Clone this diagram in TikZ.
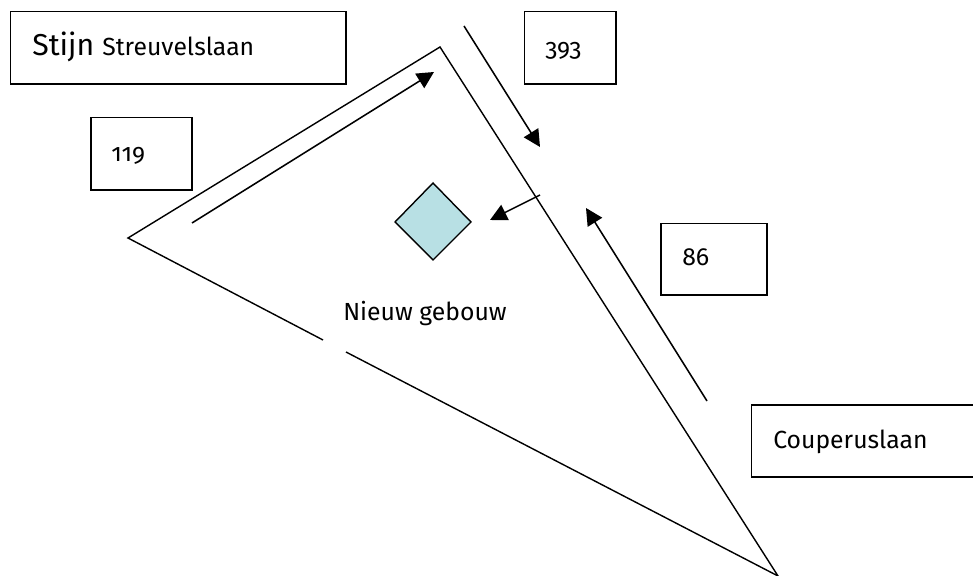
\documentclass[tikz,border=0pt]{standalone}
\usepackage{fontspec}
\setmainfont[Numbers=OldStyle]{Fira Sans}
\usetikzlibrary{arrows.meta}
\definecolor{gebouwblue}{RGB}{184,224,228}
\tikzset{
    labelbox/.style={draw, line width=1pt},
    boxtext/.style={anchor=base west, inner sep=0pt, font=\fontsize{17.6}{20}\selectfont},
    road/.style={line width=1pt},
    flow/.style={line width=1.1pt, -{Triangle[length=12pt,width=12pt]}}
}
\begin{document}
\begin{tikzpicture}[x=0.025cm, y=-0.025cm]
    \useasboundingbox (0,0) rectangle (973,576);

    % Boxes
    \draw[labelbox] (10.5,11.5) rectangle (346,84);
    \node[boxtext, font=\fontsize{21.5}{24}\selectfont] (stijn) at (32,55.5) {Stijn};
    \node[boxtext] (streuvels) at (102,55.5) {Streuvelslaan};

    \draw[labelbox] (91,117.5) rectangle (192,190);
    \node[boxtext] (count119) at (111,161.5) {119};

    \draw[labelbox] (524.5,11.5) rectangle (616,84);
    \node[boxtext] (count393) at (545,56.5) {393};

    \draw[labelbox] (661,223.5) rectangle (767,295);
    \node[boxtext] (count86) at (682,265.5) {86};

    \draw[labelbox] (751.5,405) rectangle (980,477);
    \node[boxtext] (couperus) at (773,448) {Couperuslaan};

    % Plot
    \coordinate (west) at (128,238);
    \coordinate (north) at (440,47);
    \coordinate (south) at (778,576);
    \coordinate (gapa) at (323,340);
    \coordinate (gapb) at (346,352);
    \draw[road] (gapa) -- (west) -- (north) -- (south) -- (gapb);

    % New building
    \draw[road, fill=gebouwblue] (433,183) -- (471,222) -- (433,260) -- (395,222) -- cycle;
    \node[boxtext] (gebouw) at (343,320.5) {Nieuw gebouw};

    % Traffic
    \coordinate (a1) at (192,223);
    \coordinate (a2) at (434,72);
    \coordinate (b1) at (464,26);
    \coordinate (b2) at (540,147);
    \coordinate (c1) at (707,401);
    \coordinate (c2) at (586,208);
    \coordinate (d1) at (540,195);
    \coordinate (d2) at (490,220);
    \draw[flow] (a1) -- (a2);
    \draw[flow] (b1) -- (b2);
    \draw[flow] (c1) -- (c2);
    \draw[flow] (d1) -- (d2);
\end{tikzpicture}
\end{document}
